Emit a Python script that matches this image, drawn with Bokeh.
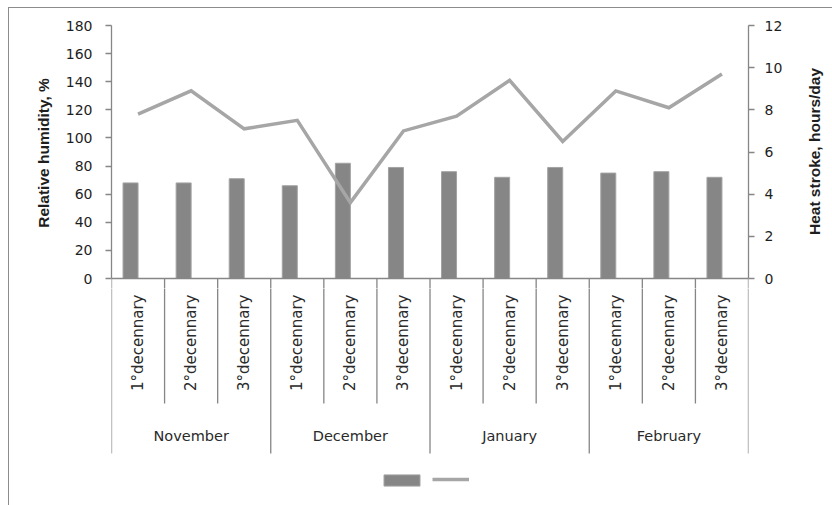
import math
from bokeh.plotting import figure
from bokeh.layouts import column, row
from bokeh.models import (ColumnDataSource, FactorRange, Range1d, LinearAxis, FixedTicker,
                          Legend, LegendItem, InlineStyleSheet)
from bokeh.transform import dodge
from bokeh.core.properties import value
from bokeh.embed import file_html
from bokeh.resources import INLINE

# ---------------- data ----------------
months = ["November", "December", "January", "February"]
decennaries = ["1°decennary", "2°decennary", "3°decennary"]
humidity = [68, 68, 71, 66, 82, 79, 76, 72, 79, 75, 76, 72]          # left axis, %
heat_stroke = [7.8, 8.9, 7.1, 7.5, 3.6, 7.0, 7.7, 9.4, 6.5, 8.9, 8.1, 9.7]  # right axis, hours/day
left_ticks = [0, 20, 40, 60, 80, 100, 120, 140, 160, 180]
right_ticks = [0, 2, 4, 6, 8, 10, 12]
left_title = "Relative humidity, %"
right_title = "Heat stroke, hours/day"

# ---------------- layout constants (pixels) ----------------
W, H = 832, 505
W_MAIN = 800           # width of the chart column; a thin strip on the right holds the right title
FRAME_L, FRAME_R = 111, 748
FRAME_T = 17           # top of plotting frame
AXIS_TOP = 25          # pixel row of the top tick (180 / 12)
ZERO_PX = 278          # pixel row of value 0
SPLIT = 288            # top figure ends here, category panel begins
LEFT_MAX, RIGHT_MAX = left_ticks[-1], right_ticks[-1]
n_cat = len(months) * len(decennaries)

px_per_unit_y = (ZERO_PX - AXIS_TOP) / LEFT_MAX
left_start = -(SPLIT - ZERO_PX) / px_per_unit_y
left_end = LEFT_MAX + (AXIS_TOP - FRAME_T) / px_per_unit_y
right_start = left_start * RIGHT_MAX / LEFT_MAX
right_end = left_end * RIGHT_MAX / LEFT_MAX

x_factors = [(m, d) for m in months for d in decennaries]
src = ColumnDataSource(dict(x=x_factors, rh=humidity, hs=heat_stroke,
                            dec=[d for m in months for d in decennaries]))

x_range = FactorRange(*x_factors, factor_padding=0, group_padding=0,
                      subgroup_padding=0, range_padding=0)

AX_COLOR = "#868686"
TXT_COLOR = "#1e1e1e"
LAB_COLOR = "#2a2a2a"
BAR_FILL, BAR_LINE = "#868686", "#a3a3a3"
LINE_COLOR = "#a6a6a6"
TITLE_FONT, TITLE_SIZE = "Liberation Sans", "15.5px"


def bare_figure(**kw):
    f = figure(x_axis_location=None, y_axis_location=None, toolbar_location=None,
               output_backend="svg", **kw)
    f.grid.visible = False
    f.outline_line_color = None
    f.background_fill_color = "white"
    f.border_fill_color = "white"
    return f


# ================= top figure: bars, line, value axes =================
p = bare_figure(width=W_MAIN, height=SPLIT, x_range=x_range,
                y_range=Range1d(left_start, left_end),
                min_border_left=FRAME_L, min_border_right=W_MAIN - FRAME_R,
                min_border_top=FRAME_T, min_border_bottom=0)
p.extra_y_ranges = {"right": Range1d(right_start, right_end)}


def style_axis(ax, ticks, standoff):
    ax.ticker = FixedTicker(ticks=ticks)
    ax.bounds = (ticks[0], ticks[-1])
    ax.axis_line_color = AX_COLOR
    ax.axis_line_width = 1.3
    ax.major_tick_line_color = AX_COLOR
    ax.major_tick_line_width = 1.3
    ax.major_tick_out = 6
    ax.major_tick_in = 0
    ax.minor_tick_out = 0
    ax.minor_tick_in = 0
    ax.major_label_text_font = "DejaVu Sans"
    ax.major_label_text_font_size = "14px"
    ax.major_label_text_color = TXT_COLOR
    ax.major_label_standoff = standoff


left_axis = LinearAxis()
style_axis(left_axis, left_ticks, 13)
left_axis.axis_label = left_title
left_axis.axis_label_text_font = TITLE_FONT
left_axis.axis_label_text_font_style = "bold"
left_axis.axis_label_text_font_size = TITLE_SIZE
left_axis.axis_label_text_color = TXT_COLOR
left_axis.axis_label_standoff = 11
p.add_layout(left_axis, "left")

right_axis = LinearAxis(y_range_name="right")
style_axis(right_axis, right_ticks, 10)
p.add_layout(right_axis, "right")

bar_w = 15 / ((FRAME_R - FRAME_L) / n_cat)
bars = p.vbar(x=dodge("x", -bar_w / 2, range=x_range), top="rh", width=bar_w, bottom=0,
              source=src, fill_color=BAR_FILL, line_color=BAR_LINE, line_width=1)
line = p.line(x="x", y="hs", source=src, y_range_name="right",
              line_color=LINE_COLOR, line_width=3.5, line_join="miter")

bx = list(range(n_cat + 1))
long_sep = [i % len(decennaries) == 0 for i in bx]
p.segment(x0=bx, x1=bx, y0=[0] * len(bx), y1=[left_start] * len(bx),
          line_color=AX_COLOR, line_width=1.3)
p.segment(x0=[0], x1=[n_cat], y0=[0], y1=[0], line_color=AX_COLOR, line_width=1.3)

# ================= bottom figure: category axis + legend =================
# y range in page pixels (flipped) so the layout below reads naturally
q = bare_figure(width=W_MAIN, height=H - SPLIT, x_range=x_range, y_range=Range1d(H, SPLIT),
                min_border_left=FRAME_L, min_border_right=W_MAIN - FRAME_R,
                min_border_top=0, min_border_bottom=0)

SUB_SEP_END, MONTH_SEP_END = 403, 453
q.segment(x0=bx, x1=bx, y0=[SPLIT - 2] * len(bx),
          y1=[MONTH_SEP_END if lg else SUB_SEP_END for lg in long_sep],
          line_color=AX_COLOR, line_width=1.3)

q.text(x="x", y=294, text="dec", source=src, angle=math.pi / 2,
       text_align="right", text_baseline="middle", text_font=value("DejaVu Sans"),
       text_font_size="15px", text_color=LAB_COLOR)
q.text(x=months, y=[435] * len(months), text=months,
       text_align="center", text_baseline="middle", text_font=value("DejaVu Sans"),
       text_font_size="14.5px", text_color=LAB_COLOR)

# hidden twins of the two series, used only for the (label-less) legend
bars_k = q.vbar(x="x", top="rh", width=bar_w, source=src, fill_color=BAR_FILL,
                line_color=BAR_LINE, line_width=1, visible=False)
line_k = q.line(x="x", y="hs", source=src, line_color=LINE_COLOR, line_width=3.5,
                visible=False)

common = dict(label_width=0, label_standoff=0, padding=0, margin=0,
              border_line_color=None, background_fill_alpha=0,
              label_text_font_size="1px", glyph_height=14, label_height=14, spacing=0)
leg1 = Legend(items=[LegendItem(label=value(" "), renderers=[bars_k])],
              location=(378.8 - FRAME_L, H - 486.6), glyph_width=45, **common)
leg2 = Legend(items=[LegendItem(label=value(" "), renderers=[line_k])],
              location=(431.7 - FRAME_L, H - 486.3), glyph_width=37, **common)
q.add_layout(leg1)
q.add_layout(leg2)

# ================= right strip: right-axis title (reads bottom to top) =================
r = bare_figure(width=W - W_MAIN, height=H, x_range=Range1d(W_MAIN, W),
                y_range=Range1d(H, 0), min_border=0)
r.text(x=[814], y=[151], text=[right_title], angle=math.pi / 2,
       text_align="center", text_baseline="middle", text_font=value(TITLE_FONT),
       text_font_style="bold", text_font_size=TITLE_SIZE, text_color=TXT_COLOR)

# outer chart border (top and left edges, as in the reference)
border_css = InlineStyleSheet(css="""
:host::before {
  content: "";
  position: absolute;
  left: 8px; top: 7px; right: 0px; bottom: 0px;
  border-left: 1px solid #8c8c8c;
  border-top: 1px solid #8c8c8c;
  pointer-events: none;
  z-index: 10;
}
""")

layout = row(column(p, q, spacing=0), r, spacing=0, stylesheets=[border_css])

open("out.html", "w").write(file_html(layout, INLINE))
